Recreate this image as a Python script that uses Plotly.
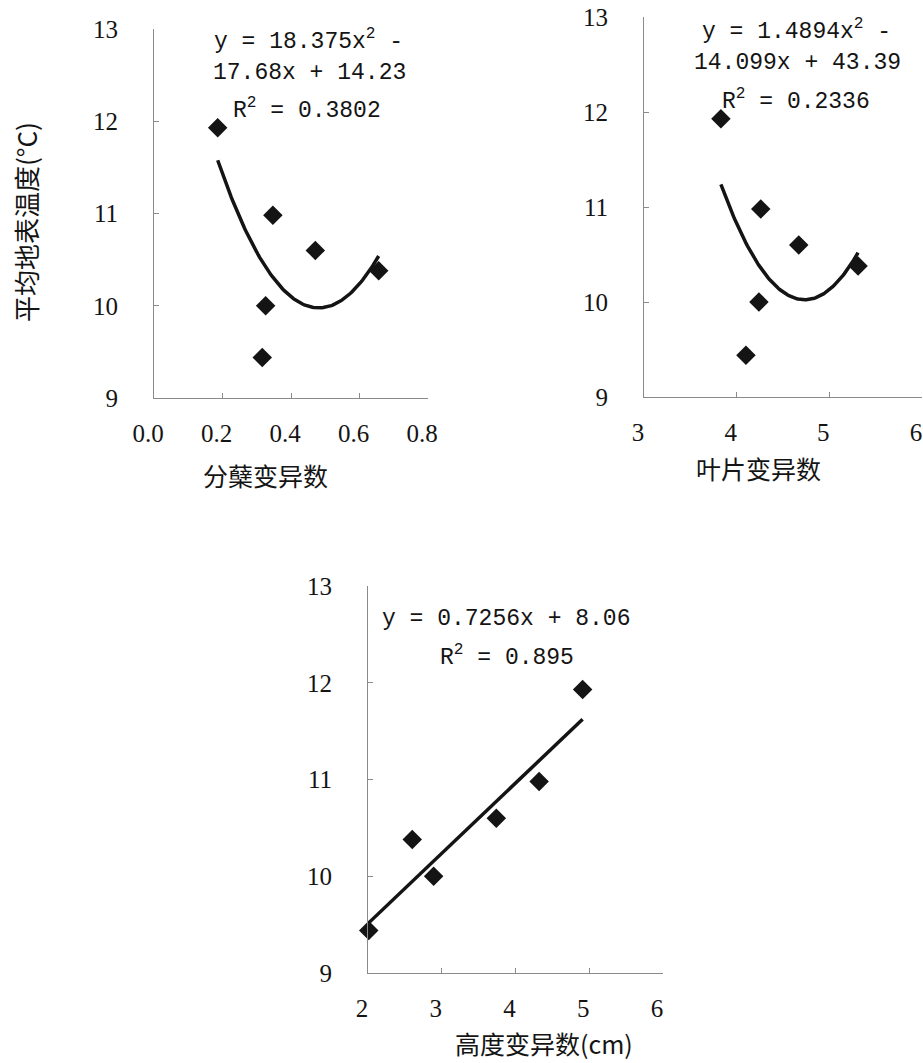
import numpy as np
import plotly.graph_objects as go

# ---- data (6 sites) ----
temp = [11.93, 10.98, 10.60, 10.00, 9.44, 10.38]          # 平均地表温度 (°C)
tiller_cv = [0.186, 0.347, 0.471, 0.326, 0.316, 0.656]    # 分蘖变异数
leaf_cv = [3.83, 4.26, 4.67, 4.24, 4.10, 5.31]            # 叶片变异数
height_cv = [4.91, 4.32, 3.74, 2.89, 2.01, 2.60]          # 高度变异数 (cm)

# trendline coefficients shown on the chart (highest power first)
tiller_fit = [18.375, -17.68, 14.23]
leaf_fit = [1.4894, -14.099, 43.39]
height_fit = [0.7256, 8.06]

tiller_ticks = [0.0, 0.2, 0.4, 0.6, 0.8]
leaf_ticks = [3, 4, 5, 6]
height_ticks = [2, 3, 4, 5, 6]
temp_ticks = [9, 10, 11, 12, 13]

W, H = 923, 1063
def px_x(p): return p / W
def px_y(p): return 1 - p / H

MONO = "Liberation Mono"
SERIF = "Liberation Serif"
CJK = "Noto Sans CJK SC"
INK = "#141414"
AXC = "#8a8a8a"

fig = go.Figure()

panels = [
    (tiller_cv, tiller_fit, "x", "y"),
    (leaf_cv, leaf_fit, "x2", "y2"),
    (height_cv, height_fit, "x3", "y3"),
]
for xs, coef, xa, ya in panels:
    fig.add_trace(go.Scatter(
        x=xs, y=temp, mode="markers", xaxis=xa, yaxis=ya,
        marker=dict(symbol="diamond", size=15, color=INK, line=dict(width=0)),
        showlegend=False, hoverinfo="x+y", cliponaxis=False))
    xx = np.linspace(min(xs), max(xs), 120)
    yy = np.polyval(coef, xx)
    fig.add_trace(go.Scatter(
        x=xx, y=yy, mode="lines", xaxis=xa, yaxis=ya,
        line=dict(color=INK, width=3.5), showlegend=False, hoverinfo="skip"))

def xaxis_cfg(domain, rng, ticks, fmt, anchor):
    return dict(domain=domain, range=rng, tickvals=ticks,
                ticktext=[fmt(t) for t in ticks], anchor=anchor,
                showline=True, linecolor=AXC, linewidth=1, mirror=False,
                showgrid=False, zeroline=False, ticks="inside", ticklen=5,
                tickcolor=AXC, tickfont=dict(family=SERIF, size=25, color=INK),
                ticklabelstandoff=13, ticklabelshift=-6, automargin=False,
                fixedrange=True)

def yaxis_cfg(domain, anchor):
    return dict(domain=domain, range=[9, 13], tickvals=temp_ticks,
                ticktext=[str(t) for t in temp_ticks], anchor=anchor,
                showline=True, linecolor=AXC, linewidth=1, mirror=False,
                showgrid=False, zeroline=False, ticks="inside", ticklen=5,
                tickcolor=AXC, tickfont=dict(family=SERIF, size=25, color=INK),
                ticklabelstandoff=30, automargin=False, fixedrange=True)

fig.update_layout(
    width=W, height=H, margin=dict(l=0, r=0, t=0, b=0, autoexpand=False),
    paper_bgcolor="white", plot_bgcolor="white",
    xaxis=xaxis_cfg([px_x(154), px_x(428)], [0, 0.8], tiller_ticks, lambda t: f"{t:.1f}", "y"),
    yaxis=yaxis_cfg([px_y(398), px_y(29)], "x"),
    xaxis2=xaxis_cfg([px_x(644), px_x(922)], [3, 6], leaf_ticks, str, "y2"),
    yaxis2=yaxis_cfg([px_y(397), px_y(17)], "x2"),
    xaxis3=xaxis_cfg([px_x(368), px_x(663)], [2, 6], height_ticks, str, "y3"),
    yaxis3=yaxis_cfg([px_y(973), px_y(586)], "x3"),
)

def ann(text, x, y, fam, size, angle=0):
    fig.add_annotation(text=text, x=px_x(x), y=px_y(y), xref="paper", yref="paper",
                       showarrow=False, xanchor="center", yanchor="middle",
                       font=dict(family=fam, size=size, color=INK), textangle=angle)

# equations
ann("y = 18.375x<sup>2</sup> -", 308, 40, MONO, 23)
ann("17.68x + 14.23", 309, 73, MONO, 23)
ann("R<sup>2</sup> = 0.3802", 307, 109, MONO, 23)

ann("y = 1.4894x<sup>2</sup> -", 796, 30, MONO, 23)
ann("14.099x + 43.39", 797, 63, MONO, 23)
ann("R<sup>2</sup> = 0.2336", 796, 100, MONO, 23)

ann("y = 0.7256x + 8.06", 506, 619, MONO, 23)
ann("R<sup>2</sup> = 0.895", 507, 656, MONO, 23)

# axis titles
ann("分蘖变异数", 265, 475, CJK, 25)
ann("叶片变异数", 758, 468, CJK, 25)
ann("高度变异数(cm)", 544, 1043, CJK, 25)
ann("平均地表温度(°C)", 25, 222, CJK, 26, angle=-90)

fig.write_html("out.html", config={"displayModeBar": False},
               post_script="document.body.style.margin='0';")
